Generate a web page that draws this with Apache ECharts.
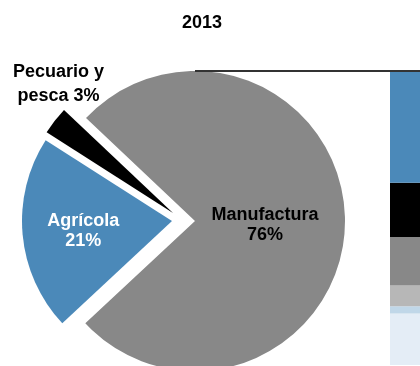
<!DOCTYPE html>
<html><head><meta charset="utf-8">
<script src="https://cdn.jsdelivr.net/npm/echarts@6/dist/echarts.min.js"></script>
<style>html,body{margin:0;padding:0;background:#fff}#c{width:420px;height:366px}</style>
</head><body><div id="c"></div>
<script>
var title = '2013';
var pieNames = ['Manufactura', 'Agrícola', 'Pecuario y\npesca'];
var pieValues = [76, 21, 3];
var pieColors = ['#888888', '#4b89b9', '#000000'];
var barCategories = ['', 'Agrícola'];
var barNames = ['s6', 's5', 's4', 's3', 's2', 's1'];
var barValues = [17.5, 2.5, 7, 16.5, 18.5, 38];
var barColors = ['#e4edf6', '#c0d7e8', '#b7b7b7', '#888888', '#000000', '#4b89b9'];
var FONT = "'Liberation Sans', Arial, sans-serif";

var chart = echarts.init(document.getElementById('c'), null, {renderer: 'canvas'});
var barSeries = barNames.map(function (n, i) {
  var s = {
    type: 'bar', name: n, stack: 'total', barWidth: 60,
    data: [null, barValues[i]],
    itemStyle: {color: barColors[i]},
    silent: true, z: 1
  };
  if (i === barNames.length - 1) {
    s.markLine = {
      silent: true, symbol: 'none', label: {show: false},
      lineStyle: {color: '#333333', width: 2, type: 'solid'},
      data: [{yAxis: 100}]
    };
  }
  return s;
});
// exploded slice centres (layout) and label shifts
var sliceCenters = [[195, 221], [172, 221], [173, 213]];
var labelShift = [[-8, 4], [-11, 3], [-53, -81]];
var labelLH = [20, 20, 24];
var pieSeries = pieNames.map(function (nm, k) {
  return {
    type: 'pie', center: sliceCenters[k], radius: 150, startAngle: 136.6, clockwise: true,
    silent: true, z: 3,
    label: {show: true, position: 'inside', fontFamily: FONT, fontSize: 18, fontWeight: 'bold', lineHeight: labelLH[k],
      formatter: function (p) { return p.name + (p.dataIndex === 2 ? ' ' : '\n') + p.value + '%'; }},
    labelLine: {show: false},
    labelLayout: function (p) { var s = labelShift[p.dataIndex]; return {dx: s[0], dy: s[1]}; },
    emphasis: {disabled: true},
    data: pieNames.map(function (n, i) {
      return {name: n, value: pieValues[i],
        itemStyle: {color: i === k ? pieColors[i] : 'rgba(0,0,0,0)'},
        label: {show: i === k, color: i === 1 ? '#ffffff' : '#000000'}};
    })
  };
});
chart.setOption({
  animation: false,
  title: {text: title, left: 177, top: 9,
    textStyle: {fontFamily: FONT, fontSize: 18, fontWeight: 'bold', color: '#000'}},
  grid: {left: 195, top: 71, width: 300, bottom: 1, containLabel: false, outerBoundsMode: 'none'},
  xAxis: {type: 'category', data: barCategories, show: false},
  yAxis: {type: 'value', min: 0, max: 100, show: false},
  series: barSeries.concat(pieSeries)
});
</script></body></html>
